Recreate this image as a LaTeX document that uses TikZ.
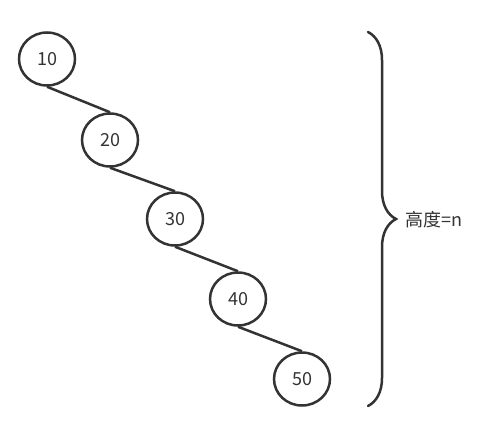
\documentclass[tikz,border=0pt]{standalone}
\usepackage{fontspec}
\setmainfont{Noto Sans CJK SC}
\usepackage{tikz}
\usetikzlibrary{shapes.geometric,decorations.pathreplacing}

\definecolor{ink}{HTML}{333333}

\begin{document}
\begin{tikzpicture}[
    x=1pt, y=-1pt,
    key/.style={ellipse, draw=ink, line width=2.5pt, minimum width=56pt, minimum height=53pt, text=ink, font=\fontsize{18}{20}\selectfont, inner sep=0pt},
    edge/.style={draw=ink, line width=2.5pt}
]
  \useasboundingbox (0,0) rectangle (486,425);

  % Keys
  \node[key] (n10) at (47,59) {10};
  \node[key] (n20) at (110,140) {20};
  \node[key] (n30) at (175,219) {30};
  \node[key] (n40) at (238,299) {40};
  \node[key] (n50) at (302,379) {50};

  % Edges
  \draw[edge] (n10.south) -- (n20.north);
  \draw[edge] (n20.south) -- (n30.north);
  \draw[edge] (n30.south) -- (n40.north);
  \draw[edge] (n40.south) -- (n50.north);

  % Height brace
  \coordinate (top) at (368,32);
  \coordinate (bottom) at (368,406);
  \draw[edge, line cap=round, decorate, decoration={brace, amplitude=28pt}] (top) -- (bottom);
  \node[anchor=west, text=ink, font=\fontsize{18}{20}\selectfont, inner sep=0pt] (height) at (405,220) {高度=n};
\end{tikzpicture}
\end{document}
